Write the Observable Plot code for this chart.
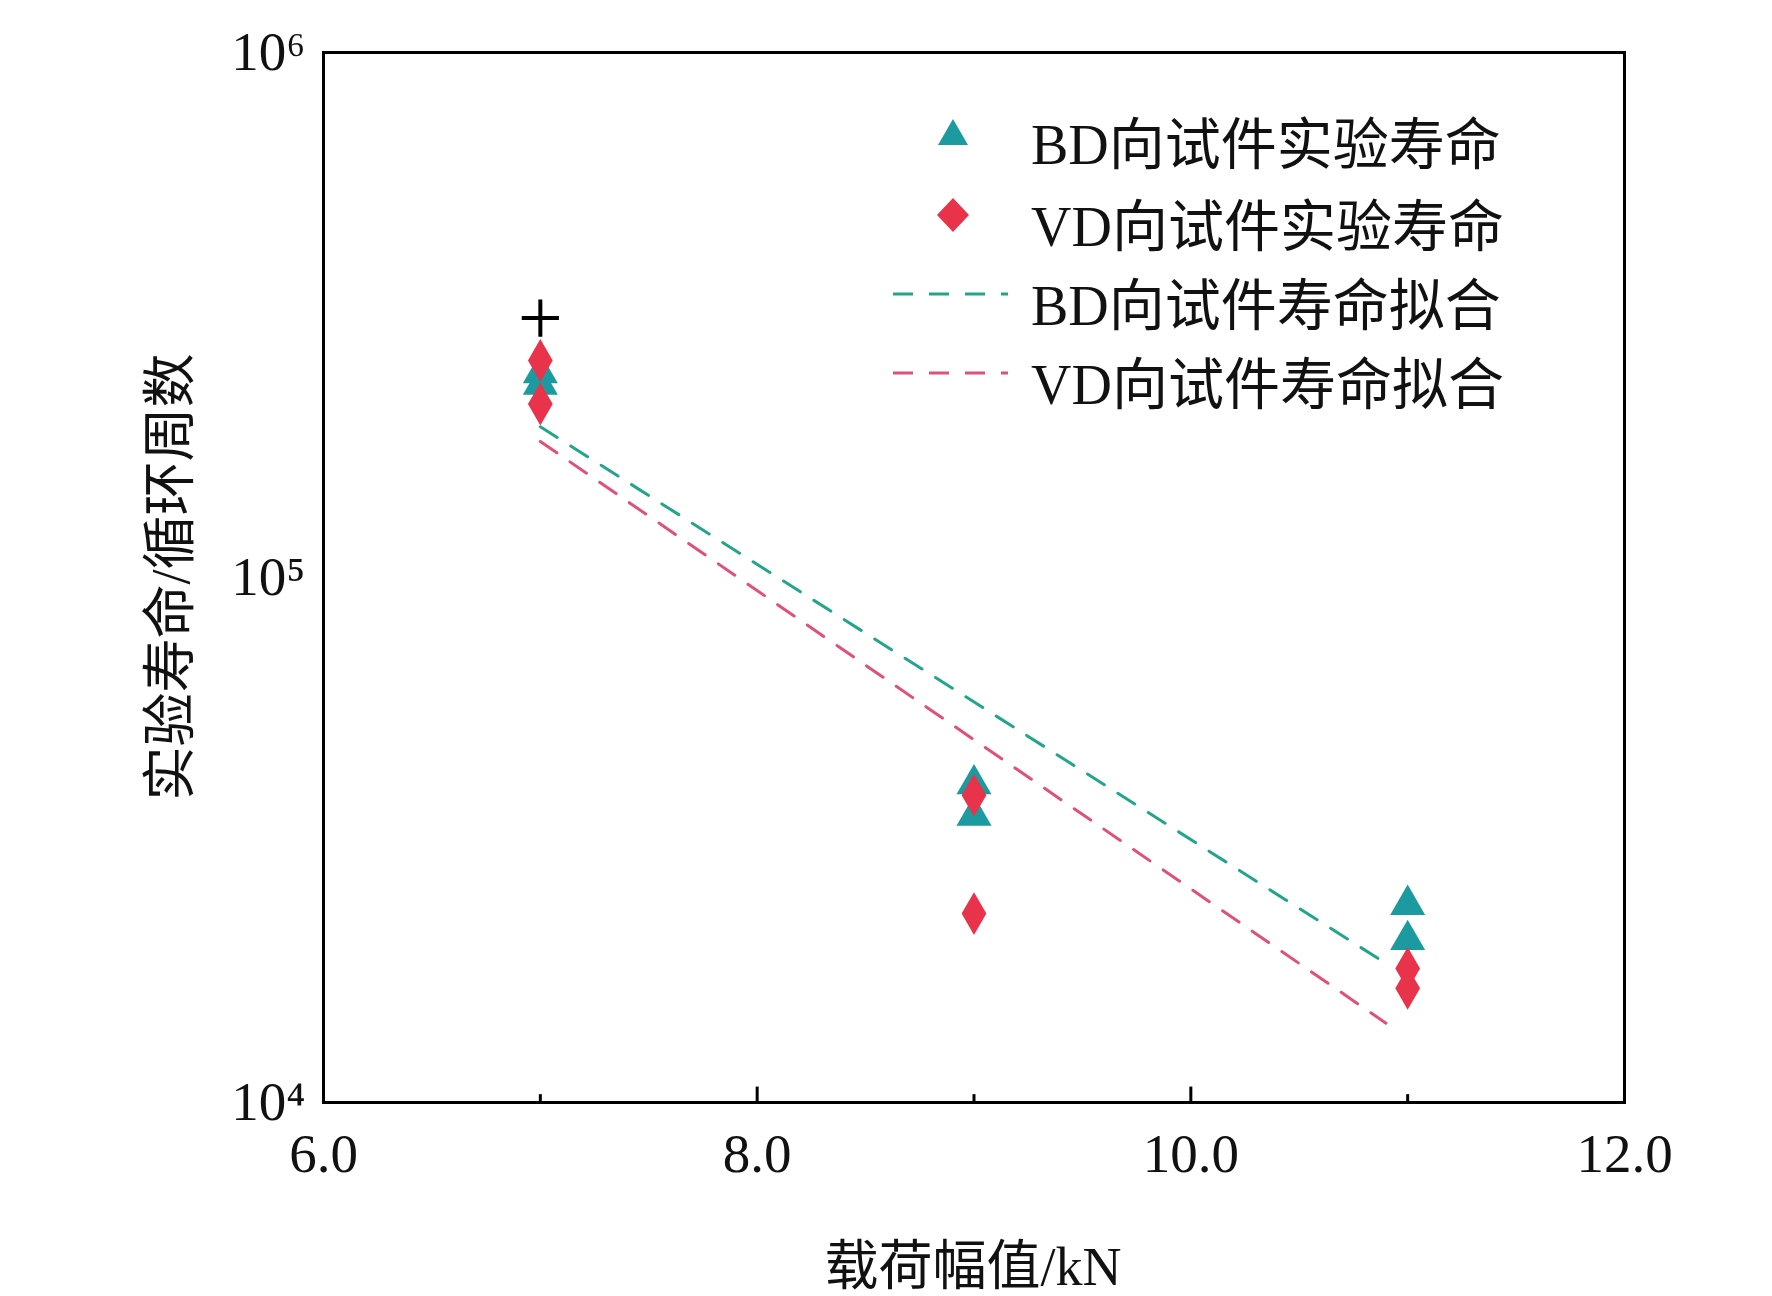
<!DOCTYPE html>
<html><head><meta charset="utf-8">
<script src="https://cdn.jsdelivr.net/npm/d3@7"></script>
<script src="https://cdn.jsdelivr.net/npm/@observablehq/plot@0.6"></script>
<style>
body{margin:0;background:#fff;}
#wrap{position:relative;width:1772px;height:1296px;font-family:"Liberation Serif","Noto Sans CJK SC",serif;}
.lab{position:absolute;font-size:54px;color:#111;white-space:nowrap;}
</style></head><body><div id="wrap"></div>
<script>
const bdX=[7,7,9,9,11,11];
const bdY=[245000,233000,40400,35200,23800,20400];
const vdX=[7,7,9,9,11,11];
const vdY=[259000,214000,38500,22900,18000,16500];
const outX=[7], outY=[312000];
const bdFitX=[7,10.9], bdFitY=[193700,18400];
const vdFitX=[7,10.9], vdFitY=[181600,14160];
const xTicks=[6,8,10,12], xMinor=[7,9,11];
const yTicks=[1e4,1e5,1e6];
const sup={"4":"⁴","5":"⁵","6":"⁶"};
const teal="#1b9aa0", red="#e8334a", tealLine="#23a58c", redLine="#e0507a";
const pts=(X,Y)=>X.map((x,i)=>({x,y:Y[i]}));
const plot=Plot.plot({
  width:1772,height:1296,marginLeft:323,marginRight:148,marginTop:52,marginBottom:194,
  style:{fontFamily:"Liberation Serif",fontSize:"55px",color:"#111",background:"#fff"},
  x:{domain:[6,12],ticks:xTicks,tickSize:0,tickPadding:30,label:null},
  y:{type:"log",domain:[1e4,1e6],ticks:yTicks,tickSize:0,tickPadding:18,label:null,
     tickFormat:d=>"10"+sup[Math.round(Math.log10(d))]},
  marks:[
    Plot.line(pts(bdFitX,bdFitY),{x:"x",y:"y",stroke:tealLine,strokeWidth:3,strokeDasharray:"20,16"}),
    Plot.line(pts(vdFitX,vdFitY),{x:"x",y:"y",stroke:redLine,strokeWidth:3,strokeDasharray:"20,16"}),
    Plot.dot(pts(bdX,bdY),{x:"x",y:"y",symbol:"triangle",r:13,fill:teal}),
    Plot.dot(pts(vdX,vdY),{x:"x",y:"y",symbol:"diamond",r:13,fill:red}),
    Plot.dot(pts(outX,outY),{x:"x",y:"y",symbol:"plus",r:12,stroke:"#000",strokeWidth:4}),
    Plot.ruleX(xTicks.slice(1,-1),{x:d=>d,y1:1e4,y2:10700,stroke:"#000",strokeWidth:3}),
    Plot.ruleX(xMinor,{x:d=>d,y1:1e4,y2:10350,stroke:"#000",strokeWidth:3}),
    Plot.frame({stroke:"#000",strokeWidth:3})
  ]
});
const wrap=document.getElementById("wrap");
wrap.appendChild(plot);
function lab(txt,css){const d=document.createElement("div");d.className="lab";d.textContent=txt;Object.assign(d.style,css);wrap.appendChild(d);return d;}
lab("载荷幅值/kN",{left:"973px",top:"1222px",transform:"translateX(-50%)"});
lab("实验寿命/循环周数",{left:"165px",top:"577px",transform:"translate(-50%,-50%) rotate(-90deg)"});
const legend=[
 {t:"BD向试件实验寿命",k:"tri"},{t:"VD向试件实验寿命",k:"dia"},
 {t:"BD向试件寿命拟合",k:"lt"},{t:"VD向试件寿命拟合",k:"lr"}];
const rows=[133,215,294,373];
legend.forEach((l,i)=>{
  const y=rows[i];
  const s=document.createElementNS("http://www.w3.org/2000/svg","svg");
  s.setAttribute("width","130");s.setAttribute("height","40");
  Object.assign(s.style,{position:"absolute",left:"890px",top:(y-20)+"px"});
  let inner="";
  if(l.k==="tri")inner=`<path d="M63,6 L78,32 L48,32 Z" fill="${teal}"/>`;
  if(l.k==="dia")inner=`<path d="M63,3 L79,20 L63,37 L47,20 Z" fill="${red}"/>`;
  if(l.k==="lt")inner=`<line x1="3" y1="20" x2="118" y2="20" stroke="${tealLine}" stroke-width="3" stroke-dasharray="20,16"/>`;
  if(l.k==="lr")inner=`<line x1="3" y1="20" x2="118" y2="20" stroke="${redLine}" stroke-width="3" stroke-dasharray="20,16"/>`;
  s.innerHTML=inner;wrap.appendChild(s);
  lab(l.t,{left:"1031px",top:(y-34)+"px",fontSize:"56px"});
});
</script></body></html>
